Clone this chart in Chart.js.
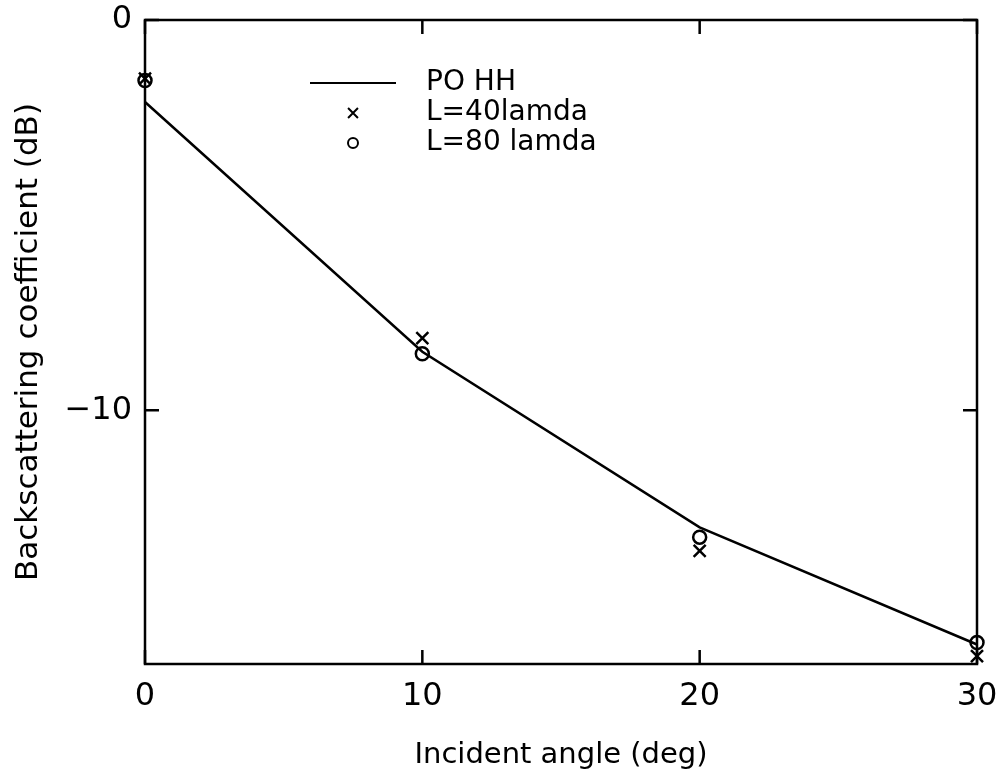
<!DOCTYPE html>
<html>
<head>
<meta charset="utf-8">
<script src="https://cdn.jsdelivr.net/npm/chart.js@4.4.1/dist/chart.umd.min.js"></script>
<style>
  html, body { margin: 0; padding: 0; background: #fff; }
  #wrap { width: 1000px; height: 775px; }
</style>
</head>
<body>
<div id="wrap"><canvas id="chart" width="1000" height="775"></canvas></div>
<script>
// incident angle (deg)
const angles = [0, 10, 20, 30];
// PO HH curve (dB)
const poHH = [-2.1, -8.5, -13.0, -16.0];
// L=40 lamda (crosses)
const l40 = [-1.5, -8.15, -13.6, -16.3];
// L=80 lamda (circles)
const l80 = [-1.55, -8.55, -13.25, -15.95];

const xTicks = [0, 10, 20, 30];
const yTicks = [0, -10];

const toXY = (ys) => angles.map((a, i) => ({x: a, y: ys[i]}));

// inward ticks and the frame round the plot
const framePlugin = {
    id: 'frame',
    afterDatasetsDraw(chart) {
        const {ctx, chartArea: a, scales} = chart;
        const len = 14;
        ctx.save();
        ctx.strokeStyle = '#000';
        ctx.lineWidth = 2.5;
        ctx.strokeRect(a.left, a.top, a.right - a.left, a.bottom - a.top);
        ctx.beginPath();
        scales.x.ticks.forEach(t => {
            const px = scales.x.getPixelForValue(t.value);
            ctx.moveTo(px, a.bottom); ctx.lineTo(px, a.bottom - len);
            ctx.moveTo(px, a.top); ctx.lineTo(px, a.top + len);
        });
        scales.y.ticks.forEach(t => {
            const py = scales.y.getPixelForValue(t.value);
            ctx.moveTo(a.left, py); ctx.lineTo(a.left + len, py);
            ctx.moveTo(a.right, py); ctx.lineTo(a.right - len, py);
        });
        ctx.stroke();
        ctx.restore();
    }
};

// legend inside the plot, like the original figure
const insideLegend = {
    id: 'insideLegend',
    afterDraw(chart, args, opts) {
        const {ctx} = chart;
        ctx.save();
        ctx.font = opts.font;
        ctx.textBaseline = 'middle';
        chart.data.datasets.forEach((ds, i) => {
            const y = opts.y + i * opts.rowGap;
            ctx.strokeStyle = '#000';
            ctx.lineWidth = 2;
            if (ds.showLine) {
                ctx.beginPath();
                ctx.moveTo(opts.x, y);
                ctx.lineTo(opts.x + opts.sample, y);
                ctx.stroke();
            } else {
                ctx.fillStyle = 'rgba(0,0,0,0)';
                const r = ds.pointStyle === 'circle' ? 5 : 7;
                Chart.helpers.drawPoint(ctx, {pointStyle: ds.pointStyle, radius: r, rotation: 0, borderWidth: 2.2},
                    opts.x + opts.sample / 2, y);
            }
            ctx.fillStyle = '#000';
            ctx.fillText(ds.label, opts.x + opts.sample + opts.textGap, y);
        });
        ctx.restore();
    }
};

new Chart(document.getElementById('chart'), {
    type: 'scatter',
    data: {
        datasets: [
            {
                label: 'PO HH',
                data: toXY(poHH),
                showLine: true,
                borderColor: '#000',
                borderWidth: 2.5,
                pointRadius: 0,
                pointHoverRadius: 0
            },
            {
                label: 'L=40lamda',
                data: toXY(l40),
                showLine: false,
                pointStyle: 'crossRot',
                pointRadius: 8.5,
                borderColor: '#000',
                borderWidth: 2.5,
                pointBorderWidth: 2.5
            },
            {
                label: 'L=80 lamda',
                data: toXY(l80),
                showLine: false,
                pointStyle: 'circle',
                pointRadius: 6.5,
                borderColor: '#000',
                backgroundColor: 'rgba(0,0,0,0)',
                borderWidth: 2.5,
                pointBorderWidth: 2.5
            }
        ]
    },
    options: {
        responsive: false,
        animation: false,
        clip: false,
        layout: { padding: { top: 20, right: 23, left: 0, bottom: 0 } },
        plugins: {
            legend: { display: false },
            tooltip: { enabled: false },
            insideLegend: {
                font: '28px "DejaVu Sans"',
                x: 310, y: 83, rowGap: 30, sample: 86, textGap: 30
            }
        },
        scales: {
            x: {
                type: 'linear',
                min: 0, max: 30,
                afterBuildTicks: s => { s.ticks = xTicks.map(v => ({value: v})); },
                afterFit: s => {
                    s.height = 111;
                    s.paddingLeft = 0; s.paddingRight = 0;
                },
                grid: { display: false, drawTicks: false },
                border: { display: false },
                ticks: {
                    color: '#000',
                    padding: 13,
                    maxRotation: 0,
                    font: { family: 'DejaVu Sans', size: 32 }
                },
                title: {
                    display: true,
                    text: 'Incident angle (deg)',
                    color: '#000',
                    font: { family: 'DejaVu Sans', size: 29 },
                    padding: { top: 0, bottom: 2 }
                }
            },
            y: {
                type: 'linear',
                min: -16.5, max: 0,
                afterBuildTicks: s => { s.ticks = yTicks.map(v => ({value: v})); },
                afterFit: s => {
                    s.width = 145;
                    s.paddingTop = 0; s.paddingBottom = 0;
                },
                grid: { display: false, drawTicks: false },
                border: { display: false },
                ticks: {
                    color: '#000',
                    padding: 13,
                    font: { family: 'DejaVu Sans', size: 32 },
                    callback: v => v < 0 ? '\u2212' + Math.abs(v) : String(v)
                },
                title: {
                    display: true,
                    text: 'Backscattering coefficient (dB)',
                    color: '#000',
                    font: { family: 'DejaVu Sans', size: 31 },
                    padding: { top: 10, bottom: 0 }
                }
            }
        }
    },
    plugins: [framePlugin, insideLegend]
});
</script>
</body>
</html>
